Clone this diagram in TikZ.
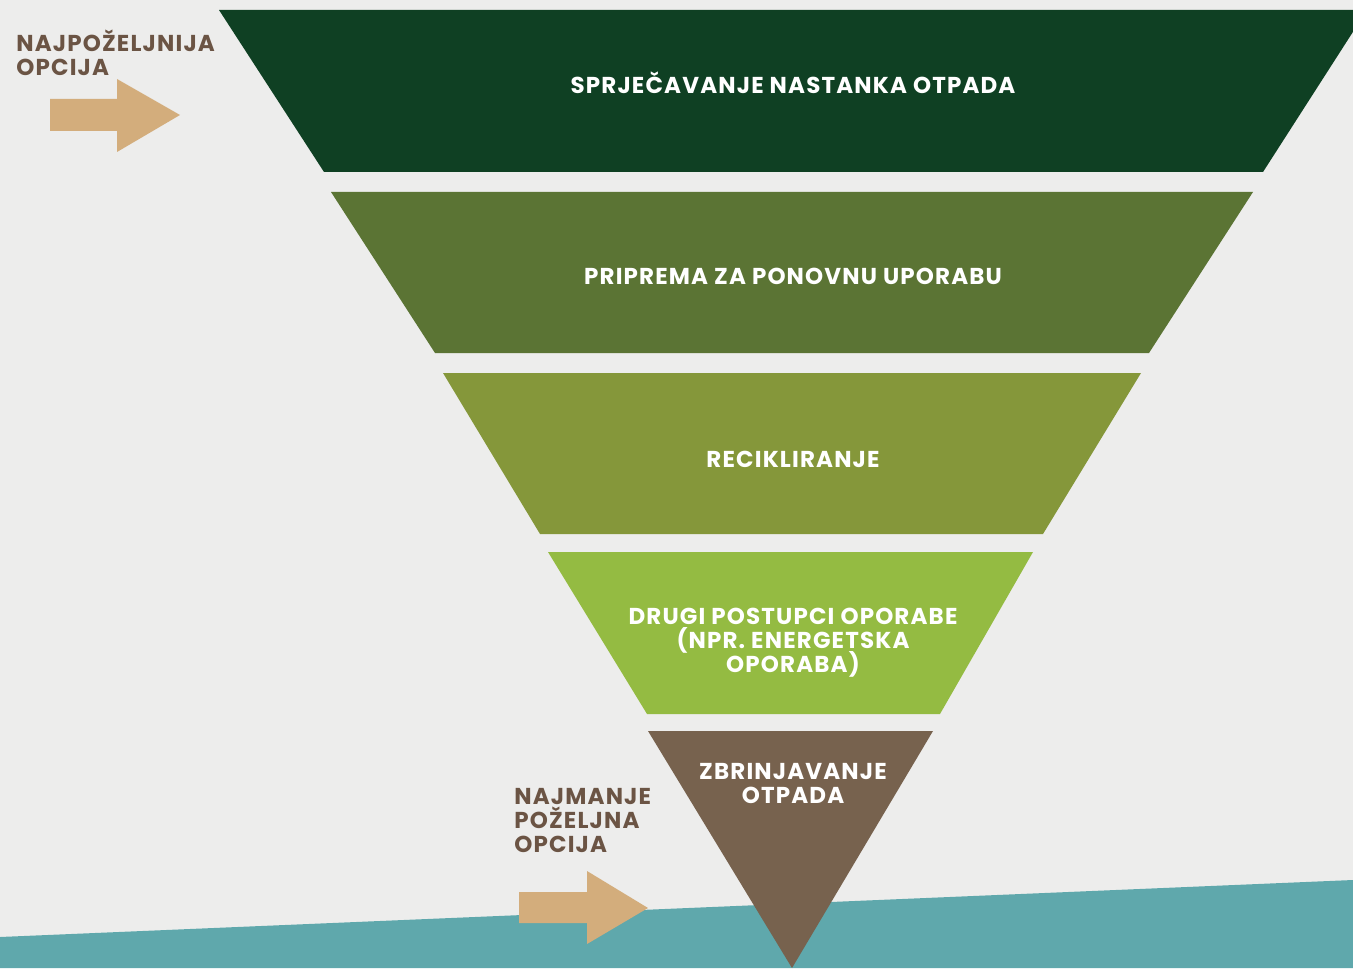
\documentclass[tikz,border=0pt]{standalone}
\usepackage{fontspec}
\newfontfamily\lblfont{Poppins}[LetterSpace=5]
\newcommand\mytightlines{\lineskiplimit=-20pt\relax}
\definecolor{paper}{HTML}{EDEDEC}
\definecolor{teal}{HTML}{5FA8AC}
\definecolor{lvlA}{HTML}{0F4023}
\definecolor{lvlB}{HTML}{5B7434}
\definecolor{lvlC}{HTML}{85973A}
\definecolor{lvlD}{HTML}{94BB42}
\definecolor{lvlE}{HTML}{77624E}
\definecolor{arrowtan}{HTML}{D3AD7C}
\definecolor{brownink}{HTML}{6B5444}
\tikzset{
  lvltext/.style={text=white, font={\lblfont\bfseries\fontsize{11.5}{12}\selectfont\mytightlines}, align=center, inner sep=0pt},
  sidetext/.style={text=brownink, font={\lblfont\bfseries\fontsize{11.5}{12}\selectfont\mytightlines}, align=left, inner sep=0pt, anchor=north west},
  tanarrow/.style={fill=arrowtan}
}
\begin{document}
\begin{tikzpicture}[x=0.5pt,y=-0.5pt]
\useasboundingbox (0,0) rectangle (1353,968);
% background
\fill[paper] (0,0) rectangle (1353,968);
\fill[teal] (0,937) -- (1353,880) -- (1353,968) -- (0,968) -- cycle;
% levels
\fill[lvlA] (219,10) -- (1367,10) -- (1263,172) -- (324,172) -- cycle;
\fill[lvlB] (331,192) -- (1253,192) -- (1149,353) -- (435,353) -- cycle;
\fill[lvlC] (443,373) -- (1141,373) -- (1043,534) -- (540,534) -- cycle;
\fill[lvlD] (548,552) -- (1033,552) -- (940,714) -- (647,714) -- cycle;
\fill[lvlE] (648,731) -- (933,731) -- (792,968) -- cycle;
% level labels
\node[lvltext] (tA) at (793,83) {SPRJEČAVANJE NASTANKA OTPADA};
\node[lvltext] (tB) at (793,276) {PRIPREMA ZA PONOVNU UPORABU};
\node[lvltext] (tC) at (793,459) {RECIKLIRANJE};
\node[lvltext] (tD) at (793,643) {DRUGI POSTUPCI OPORABE\\(NPR. ENERGETSKA\\OPORABA)};
\node[lvltext] (tE) at (793,783) {ZBRINJAVANJE\\OTPADA};
% side labels
\node[sidetext] (best) at (16,30) {NAJPOŽELJNIJA\\OPCIJA};
\node[sidetext] (worst) at (514,788) {NAJMANJE\\POŽELJNA\\OPCIJA};
% arrows
\fill[tanarrow] (50,99) -- (117,99) -- (117,79) -- (180,115) -- (117,152) -- (117,131) -- (50,131) -- cycle;
\fill[tanarrow] (519,892) -- (587,892) -- (587,871) -- (648,908) -- (587,944) -- (587,923) -- (519,923) -- cycle;
\end{tikzpicture}
\end{document}
